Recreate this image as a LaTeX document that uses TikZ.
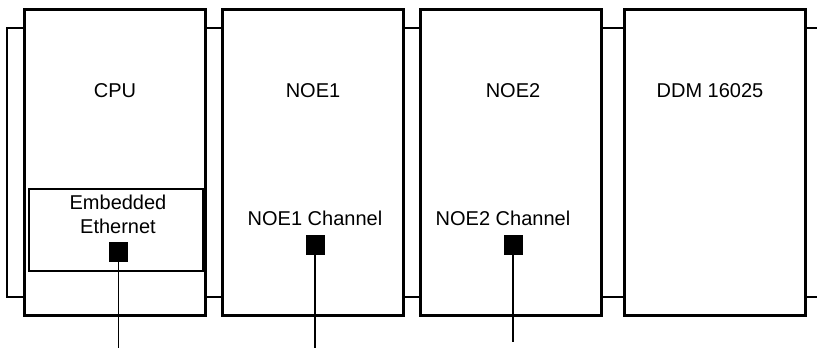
\documentclass[tikz,border=0pt]{standalone}
\usepackage{fontspec}
\setmainfont{Liberation Sans}
\begin{document}
\begin{tikzpicture}[x=1pt,y=-1pt,
  module/.style={draw=black,line width=3pt,fill=white,minimum width=181pt,minimum height=306pt,inner sep=0pt,outer sep=0pt},
  lbl/.style={font=\fontsize{20}{25}\selectfont,anchor=base,inner sep=0pt},
  port/.style={fill=black,draw=none,minimum width=19pt,minimum height=20pt,inner sep=0pt,outer sep=0pt},
  wire/.style={line width=1.3pt},
  thin/.style={line width=1.3pt}]
\useasboundingbox (0,0) rectangle (817,348);
\begin{scope}
\clip (0,0) rectangle (817,348);
% rack backplate
\draw[thin] (830,28) -- (7,28) -- (7,297) -- (830,297);
\end{scope}
% modules
\node[module] (cpu) at (115,162.5) {};
\node[module] (noe1) at (313,162.5) {};
\node[module] (noe2) at (510.5,162.5) {};
\node[module] (ddm) at (715,162.5) {};
% titles
\node[lbl] (tcpu) at (115,97) {CPU};
\node[lbl] (tnoe1) at (313,97) {NOE1};
\node[lbl] (tnoe2) at (513,97) {NOE2};
\node[lbl] (tddm) at (710,97) {DDM 16025};
% embedded ethernet
\node[draw,thin,minimum width=174pt,minimum height=82pt,inner sep=0pt] (emb) at (116,230) {};
\node[lbl] (temb1) at (118,209) {Embedded};
\node[lbl] (temb2) at (118,233) {Ethernet};
\node[lbl] (tch1) at (315,225) {NOE1 Channel};
\node[lbl] (tch2) at (503,225) {NOE2 Channel};
% ports
\node[port] (p0) at (118.5,252) {};
\node[port] (p1) at (315,244.5) {};
\node[port] (p2) at (513,244.5) {};
\coordinate (e0) at (118.5,348);
\coordinate (e1) at (315,348);
\coordinate (e2) at (513,342);
\draw[wire] (p0.south) -- (e0);
\draw[wire] (p1.south) -- (e1);
\draw[wire] (p2.south) -- (e2);
\end{tikzpicture}
\end{document}
